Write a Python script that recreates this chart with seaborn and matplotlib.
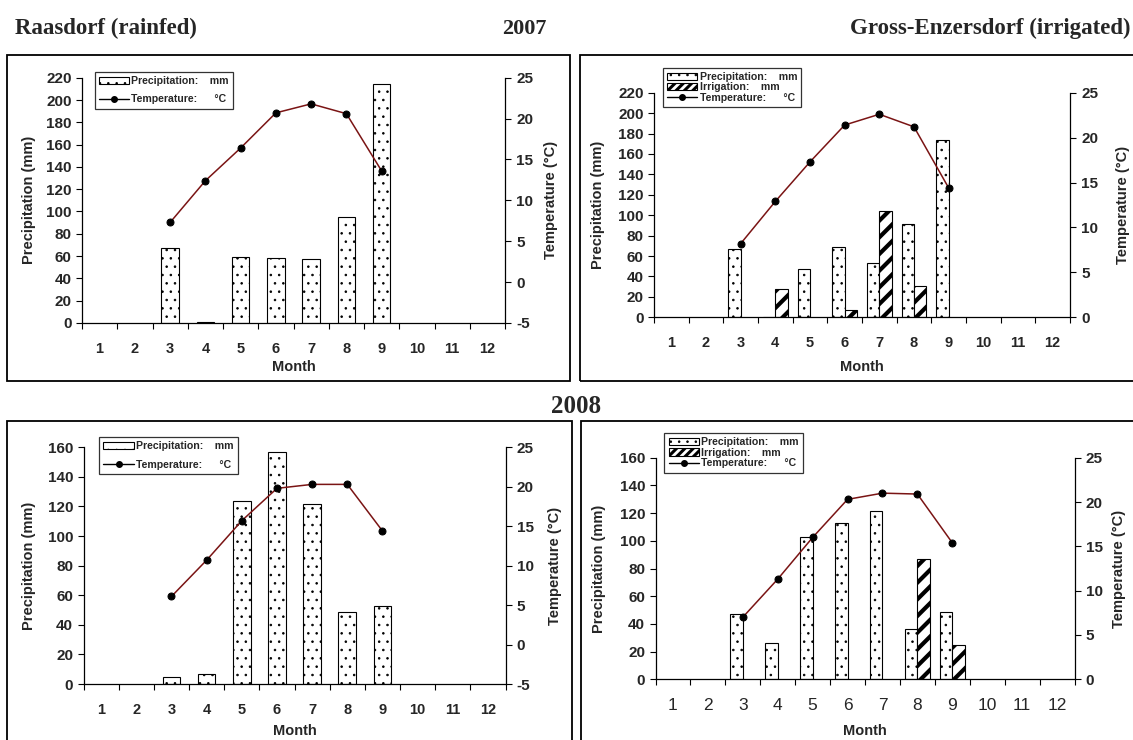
import numpy as np
import pandas as pd
import seaborn as sns
import matplotlib.pyplot as plt
from matplotlib.patches import Patch, Rectangle
from matplotlib.lines import Line2D

sns.set_theme(style='ticks')
plt.rcParams['font.family'] = ['Liberation Sans', 'DejaVu Sans']
plt.rcParams['hatch.linewidth'] = 0.6
plt.rcParams['axes.unicode_minus'] = False

# ---- data ----
months = list(range(1, 13))
data_months = [3, 4, 5, 6, 7, 8, 9]

# 2007
raas07_precip = [67, 1, 59, 58, 57, 95, 214]
raas07_temp = [7.3, 12.4, 16.4, 20.7, 21.8, 20.6, 13.6]
gross07_precip = [66.5, 0.7, 47, 68.5, 53.5, 91, 174]
gross07_irrig = [np.nan, 27.5, np.nan, 7, 104, 31, np.nan]
gross07_temp = [8.2, 12.9, 17.3, 21.4, 22.6, 21.2, 14.4]

# 2008
raas08_precip = [4.5, 6.5, 123.5, 157, 121.5, 49, 53]
raas08_temp = [6.1, 10.7, 15.7, 19.8, 20.3, 20.3, 14.4]
gross08_precip = [47, 26.5, 103, 112.5, 121.5, 36.5, 48.5]
gross08_irrig = [np.nan, np.nan, np.nan, np.nan, np.nan, 87, 25]
gross08_temp = [7.0, 11.3, 16.0, 20.3, 21.0, 20.9, 15.4]

W, H = 1133, 740
fig = plt.figure(figsize=(W / 100, H / 100), dpi=100)

LINE_COL = '#7a1414'


def fx(x):
    return x / W


def fy(y):
    return 1 - y / H


def panel(box, pos, precip, irrig, temp, ymax, tmin, leg_xy, ylab_x, rlab_x, month_y,
          xtick_bold=True):
    # outer frame of the panel
    x0, y0, x1, y1 = box
    fig.add_artist(Rectangle((fx(x0), fy(y1)), fx(x1 - x0), (y1 - y0) / H,
                             transform=fig.transFigure, fill=False,
                             edgecolor='black', linewidth=1.3))
    l, t, r, b = pos
    ax = fig.add_axes([fx(l), fy(b), fx(r - l), (b - t) / H])

    rows = [(m, 'Precipitation', v) for m, v in zip(data_months, precip)]
    if irrig is not None:
        rows += [(m, 'Irrigation', v) for m, v in zip(data_months, irrig) if not np.isnan(v)]
    df = pd.DataFrame(rows, columns=['month', 'kind', 'mm'])

    if irrig is not None:
        sns.barplot(data=df, x='month', y='mm', hue='kind',
                    hue_order=['Precipitation', 'Irrigation'], order=months,
                    palette=['white', 'white'], width=0.72, saturation=1,
                    edgecolor='black', linewidth=0.8, errorbar=None,
                    legend=False, ax=ax)
        hatches = ['..', '//']
        hlw = [0.6, 3.0]
    else:
        sns.barplot(data=df, x='month', y='mm', order=months, color='white',
                    width=0.5, saturation=1, edgecolor='black', linewidth=0.8,
                    errorbar=None, ax=ax)
        hatches = ['..']
        hlw = [0.6]
    for cont, h, lw in zip(ax.containers, hatches, hlw):
        for bar in cont:
            bar.set_hatch(h)
            if hasattr(bar, 'set_hatch_linewidth'):
                bar.set_hatch_linewidth(lw)

    ax.set_ylim(0, ymax)
    ax.set_yticks(np.arange(0, ymax + 1, 20))
    ax.set_xlim(-0.5, 11.5)
    ax.set_xticks(np.arange(-0.5, 12, 1))
    ax.set_xticklabels([])
    ax.set_xticks(np.arange(12), minor=True)
    ax.set_xticklabels([str(m) for m in months], minor=True,
                       fontweight='bold' if xtick_bold else 'normal',
                       fontsize=10.5 if xtick_bold else 12.5)
    ax.tick_params(axis='x', which='major', direction='out', length=4, width=0.8,
                   bottom=True, color='black')
    ax.tick_params(axis='x', which='minor', length=0, pad=13.5, bottom=True)
    ax.tick_params(axis='y', direction='out', length=4, width=0.8, pad=3.5,
                   left=True, labelsize=11, color='black')
    for lab in ax.get_yticklabels():
        lab.set_fontweight('bold')
    ax.set_xlabel('Month', fontsize=10.5, fontweight='bold')
    ax.xaxis.label.set_va('center')
    ax.xaxis.set_label_coords(0.5, (b - month_y) / (b - t))
    ax.set_ylabel('Precipitation (mm)', fontsize=10.5, fontweight='bold')
    ax.yaxis.label.set_va('center')
    ax.yaxis.set_label_coords((ylab_x - l) / (r - l), 0.5)
    for s in ['top', 'right']:
        ax.spines[s].set_visible(False)
    for s in ['left', 'bottom']:
        ax.spines[s].set_color('black')
        ax.spines[s].set_linewidth(0.9)

    ax2 = ax.twinx()
    xs = [months.index(m) for m in data_months]
    sns.lineplot(x=xs, y=temp, ax=ax2, color=LINE_COL, linewidth=1.1,
                 marker='o', markersize=5, markerfacecolor='black',
                 markeredgecolor='black')
    ax2.set_ylim(tmin, 25)
    ax2.set_yticks(np.arange(tmin, 26, 5))
    ax2.tick_params(axis='y', direction='out', length=4, width=0.8, pad=4,
                    right=True, labelsize=11, color='black')
    for lab in ax2.get_yticklabels():
        lab.set_fontweight('bold')
    ax2.set_ylabel('Temperature (°C)', fontsize=10.5, fontweight='bold')
    ax2.yaxis.label.set_va('center')
    ax2.yaxis.set_label_coords((rlab_x - l) / (r - l), 0.5)
    for s in ['top', 'left', 'bottom']:
        ax2.spines[s].set_visible(False)
    ax2.spines['right'].set_color('black')
    ax2.spines['right'].set_linewidth(0.9)
    ax.set_xlim(-0.5, 11.5)

    # legend
    handles = [Patch(facecolor='white', edgecolor='black', hatch='..', linewidth=0.8)]
    if irrig is not None:
        handles.append(Patch(facecolor='black', edgecolor='black', linewidth=0.8))
        labels = ['Precipitation:    mm', 'Irrigation:    mm', 'Temperature:      °C']
        spacing = 0.05
    else:
        labels = ['Precipitation:    mm', 'Temperature:      °C']
        spacing = 0.8
    handles.append(Line2D([], [], color='black', marker='o', markersize=4,
                          linewidth=1.0))
    leg = ax2.legend(handles, labels, loc='upper left',
                     bbox_to_anchor=(fx(leg_xy[0]), fy(leg_xy[1])),
                     bbox_transform=fig.transFigure, borderaxespad=0,
                     frameon=True, fancybox=False, edgecolor='black',
                     prop={'size': 7.6, 'weight': 'bold'}, labelspacing=spacing,
                     handlelength=2.9, handleheight=0.7, handletextpad=0.2,
                     borderpad=0.4)
    leg.get_frame().set_linewidth(0.9)
    leg.set_zorder(10)
    # irrigation legend key: white slashes on black like the bars' print
    if irrig is not None:
        key = leg.get_patches()[1]
        key.set_facecolor('white')
        key.set_hatch('////')
        if hasattr(key, 'set_hatch_linewidth'):
            key.set_hatch_linewidth(2.2)
    return ax, ax2


# ---- four panels ----
panel((7, 55, 570, 381), (82, 77.7, 505, 323), raas07_precip, None, raas07_temp,
      220, -5, (94.5, 71.7), 29, 551, 367)
panel((580, 55, 1140, 381), (654, 92.7, 1070, 317.3), gross07_precip, gross07_irrig,
      gross07_temp, 220, 0, (662.6, 67.7), 598, 1123, 367)
panel((7, 421, 572, 745), (83.6, 447.3, 505.5, 684), raas08_precip, None, raas08_temp,
      160, -5, (99, 437), 29, 554.5, 731)
panel((581, 421, 1140, 745), (655.5, 457.7, 1074.5, 679.3), gross08_precip, gross08_irrig,
      gross08_temp, 160, 0, (664.4, 433), 599, 1119, 731, xtick_bold=False)

serif = ['Liberation Serif', 'DejaVu Serif']
fig.text(fx(15), fy(34), 'Raasdorf (rainfed)', family=serif, fontweight='bold',
         fontsize=16.5, va='baseline', ha='left')
fig.text(fx(524), fy(34), '2007', family=serif, fontweight='bold',
         fontsize=16, va='baseline', ha='center')
fig.text(fx(1130), fy(34), 'Gross-Enzersdorf (irrigated)', family=serif,
         fontweight='bold', fontsize=16.5, va='baseline', ha='right')
fig.text(fx(576), fy(413), '2008', family=serif, fontweight='bold',
         fontsize=18, va='baseline', ha='center')

fig.savefig('out.png', dpi=100)
